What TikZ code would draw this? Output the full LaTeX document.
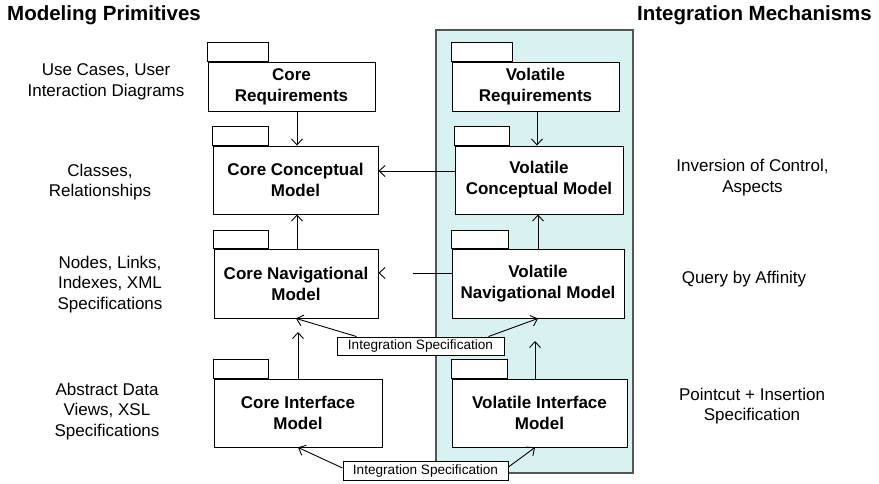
\documentclass[tikz,border=0pt]{standalone}
\usepackage{fontspec}
\setmainfont{Liberation Sans}
\usetikzlibrary{arrows.meta,calc}
\definecolor{panelfill}{HTML}{D8F2F1}
\definecolor{panelline}{HTML}{555555}
\tikzset{
  pkg/.style={draw, fill=white, line width=0.9pt, align=center, inner sep=0pt,
    font=\fontsize{17}{21}\selectfont\bfseries},
  tab/.style={draw, fill=white, line width=0.9pt},
  note/.style={align=center, inner sep=0pt, font=\fontsize{17}{20.5}\selectfont},
  spec/.style={draw, fill=white, line width=0.9pt, inner sep=0pt,
    font=\fontsize{13.6}{16}\selectfont},
  title/.style={inner sep=0pt, font=\fontsize{20.5}{24}\selectfont\bfseries},
  arr/.style={line width=0.9pt, -{Straight Barb[length=6pt,width=11pt]}}
}
\begin{document}
\begin{tikzpicture}[x=1pt,y=-1pt]
\useasboundingbox (0,0) rectangle (879,484);

% volatile column background
\draw[fill=panelfill, draw=panelline, line width=1.2pt] (436,30) rectangle (633,473);

% titles
\node[title, anchor=west] (tl) at (7,15) {Modeling Primitives};
\node[title, anchor=east] (tr) at (872,15) {Integration Mechanisms};

% core packages
\node[pkg, minimum width=167pt, minimum height=49pt] (cr)  at (291.5,86.5) {Core\\Requirements};
\node[pkg, minimum width=165pt, minimum height=68pt] (ccm) at (295.5,180)  {Core Conceptual\\Model};
\node[pkg, minimum width=164pt, minimum height=69pt] (cnm) at (296,283.5)  {Core Navigational\\Model};
\node[pkg, minimum width=168pt, minimum height=68pt] (cim) at (298,413)    {Core Interface\\Model};

% volatile packages
\node[pkg, minimum width=167pt, minimum height=49pt] (vr)  at (535.5,86.5) {Volatile\\Requirements};
\node[pkg, minimum width=168pt, minimum height=68pt] (vcm) at (539,180)    {Volatile\\Conceptual Model};
\node[pkg, minimum width=172pt, minimum height=69pt] (vnm) at (538,283.5)  {Volatile\\Navigational Model};
\node[pkg, minimum width=175pt, minimum height=68pt] (vim) at (539.5,413)  {Volatile Interface\\Model};

% package tabs
\draw[tab] (cr.north west)  rectangle ++(61,-19);
\draw[tab] (ccm.north west) rectangle ++(56,-19);
\draw[tab] (cnm.north west) rectangle ++(55,-18);
\draw[tab] (cim.north west) rectangle ++(55,-19);
\draw[tab] (vr.north west)  rectangle ++(61,-19);
\draw[tab] (vcm.north west) rectangle ++(55,-19);
\draw[tab] (vnm.north west) rectangle ++(57,-18);
\draw[tab] (vim.north west) rectangle ++(56,-19);

% dependencies
\draw[arr] (cr.south -| 297,0) -- (ccm.north -| 297,0);
\draw[arr] (cnm.north -| 297,0) -- (ccm.south -| 297,0);
\draw[arr] (vr.south -| 537,0) -- (vcm.north -| 537,0);
\draw[arr] (vnm.north -| 538,0) -- (vcm.south -| 538,0);
\draw[arr] (vcm.west |- 0,171) -- (ccm.east |- 0,171);
\draw[arr, dash pattern=on 39pt off 60pt] (vnm.west |- 0,273) -- (cnm.east |- 0,273);

\coordinate (cup) at (298,332);
\coordinate (vup) at (535,341);
\draw[arr] (cim.north) -- (cup);
\draw[arr] ([xshift=-4.5pt]vim.north) -- (vup);

% integration specifications
\node[spec, minimum width=167pt, minimum height=18pt] (is1) at (420.5,346)   {Integration Specification};
\node[spec, minimum width=165pt, minimum height=19pt] (is2) at (425.5,470.5) {Integration Specification};

\draw[arr] ([xshift=20pt]is1.north west) -- (cnm.south);
\draw[arr] ([xshift=-16pt]is1.north east) -- (vnm.south);
\draw[arr] ([yshift=2.5pt]is2.west) -- (cim.south);
\draw[arr] ([yshift=3.5pt]is2.east) -- ([xshift=-4.5pt]vim.south);

% modeling primitives
\node[note] (n1) at (106,82)  {Use Cases, User\\Interaction Diagrams};
\node[note] (n2) at (100,182) {Classes,\\Relationships};
\node[note] (n3) at (110,284.5) {Nodes, Links,\\Indexes, XML\\Specifications};
\node[note] (n4) at (107,411.5) {Abstract Data\\Views, XSL\\Specifications};

% integration mechanisms
\node[note] (m1) at (752.5,177.5) {Inversion of Control,\\Aspects};
\node[note] (m2) at (744,279)   {Query by Affinity};
\node[note] (m3) at (752,406)   {Pointcut + Insertion\\Specification};
\end{tikzpicture}
\end{document}
